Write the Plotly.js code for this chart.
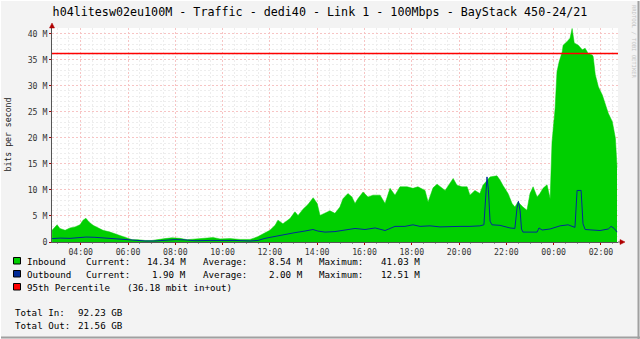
<!DOCTYPE html>
<html><head><meta charset="utf-8">
<script src="https://cdn.plot.ly/plotly-3.0.1.min.js"></script>
<style>html,body{margin:0;padding:0;background:#F3F3F3}#chart{width:640px;height:339px}</style>
</head><body><div id="chart"></div>
<script>
// ---- data (hours since midnight of first day; >24 = next day) ----
const inboundTime = [2.79,3.0,3.12,3.34,3.55,3.76,3.97,4.1,4.22,4.35,4.52,4.73,4.94,5.24,5.45,5.66,5.87,6.17,6.42,6.72,7.01,7.27,7.56,7.86,8.11,8.2,8.5,8.92,9.34,9.6,9.89,10.31,10.74,11.16,11.46,11.71,12.0,12.22,12.34,12.55,12.85,13.06,13.19,13.4,13.61,13.83,14.0,14.12,14.33,14.54,14.75,14.96,15.09,15.3,15.47,15.6,15.72,15.94,16.15,16.36,16.66,16.87,17.08,17.29,17.5,17.8,18.05,18.26,18.56,18.69,18.9,19.07,19.41,19.62,19.75,19.91,20.12,20.34,20.46,20.67,20.88,21.01,21.18,21.31,21.6,21.73,21.85,22.07,22.24,22.36,22.49,22.7,22.87,23.0,23.13,23.3,23.42,23.55,23.72,23.85,23.93,24.06,24.14,24.23,24.36,24.4,24.57,24.69,24.78,24.87,25.04,25.21,25.33,25.46,25.63,25.67,25.76,25.89,26.06,26.18,26.31,26.48,26.61,26.68];
const inboundMbps = [2.25,3.3,2.6,2.25,2.7,2.9,3.3,4.2,4.55,3.85,3.2,2.7,2.25,1.9,1.6,1.15,0.85,0.45,0.45,0.3,0.3,0.5,0.65,0.8,0.8,0.7,0.45,0.6,0.65,0.85,0.6,0.65,0.5,0.5,0.95,1.6,2.25,3.2,4.2,3.5,4.5,5.8,5.1,6.3,7.2,8.5,7.4,5.1,5.6,6.0,5.5,6.7,8.3,9.3,8.65,7.4,8.3,9.6,8.65,9.0,9.0,7.4,10.3,9.0,10.6,10.6,10.3,10.6,9.9,7.7,10.4,11.1,9.9,11.2,12.2,10.9,10.6,10.6,9.0,9.9,9.3,10.9,11.9,12.5,12.7,11.9,10.9,9.3,7.4,6.7,7.7,6.7,6.1,9.3,10.6,8.65,9.3,10.3,11.0,8.3,19.2,25.6,32.7,34.6,36.5,37.8,38.5,39.1,41.0,38.2,37.8,36.9,37.2,36.2,35.9,35.6,32.1,29.8,28.2,26.3,24.7,23.1,19.9,14.3];
const outboundTime = [2.79,3.13,3.55,3.97,4.22,4.6,5.03,5.45,5.87,6.3,6.72,7.14,7.56,7.99,8.41,8.83,9.47,9.89,10.52,11.16,11.5,11.79,12.22,12.64,13.06,13.48,13.82,14.03,14.33,14.75,15.18,15.6,16.02,16.45,16.87,17.29,17.71,18.05,18.35,18.77,19.19,19.62,20.04,20.46,20.88,21.05,21.12,21.18,21.24,21.31,21.39,21.73,22.15,22.36,22.45,22.51,22.58,22.64,22.7,23.3,23.38,23.51,23.85,24.27,24.61,24.82,24.9,24.99,25.16,25.24,25.33,25.96,26.31,26.43,26.56,26.68];
const outboundMbps = [0.65,0.75,0.7,0.85,0.95,0.9,0.75,0.6,0.45,0.3,0.2,0.2,0.3,0.45,0.4,0.25,0.3,0.35,0.3,0.2,0.3,0.7,1.1,1.5,1.8,2.1,2.4,2.1,1.9,2.0,2.3,2.6,2.4,2.7,2.2,3.0,3.0,3.3,3.0,3.1,2.9,3.0,3.0,3.0,3.1,3.3,8.0,12.5,10.0,4.0,3.3,3.2,2.7,2.6,6.5,7.8,6.0,2.5,1.9,1.9,2.7,2.3,2.5,3.1,3.3,3.0,2.8,9.9,9.9,3.5,2.4,2.2,2.5,3.0,2.6,1.9];
const percentile95 = 36.18;
const xTickVals = [4,6,8,10,12,14,16,18,20,22,24,26];
const xTickText = ['04:00','06:00','08:00','10:00','12:00','14:00','16:00','18:00','20:00','22:00','00:00','02:00'];
const yTickVals = [0,5,10,15,20,25,30,35,40];
const yTickText = ['0','5 M','10 M','15 M','20 M','25 M','30 M','35 M','40 M'];
const seriesNames = ['Inbound','Outbound'];
const currentVals = ['14.34 M','1.90 M'];
const averageVals = ['8.54 M','2.00 M'];
const maximumVals = ['41.03 M','12.51 M'];
const percentileLabel = ['95th Percentile','(36.18 mbit in+out)'];
const totalLabels = ['Total In:','Total Out:'];
const totalVals = ['92.23 GB','21.56 GB'];
const titleText = 'h04litesw02eu100M - Traffic - dedi40 - Link 1 - 100Mbps - BayStack 450-24/21';

// ---- styling / layout ----
const C_IN = '#00CF00', C_OUT = '#002A97', C_P95 = '#FF0000';
const MONO = 'DejaVu Sans Mono, monospace';
const L = 52, R = 618, T = 28, B = 242, W = 640, H = 339;
const X_RANGE = [2.786, 26.72];
const PX = x => (x - L) / (R - L);
const PY = y => (B - y) / (B - T);

const traces = [
  {x: inboundTime, y: inboundMbps, type: 'scatter', mode: 'lines', fill: 'tozeroy',
   fillcolor: C_IN, line: {color: C_IN, width: 0.5}, hoverinfo: 'skip'},
  {x: outboundTime, y: outboundMbps, type: 'scatter', mode: 'lines',
   line: {color: C_OUT, width: 1}, hoverinfo: 'skip'},
  {x: X_RANGE, y: [percentile95, percentile95], type: 'scatter', mode: 'lines',
   line: {color: C_P95, width: 1.6}, hoverinfo: 'skip'}
];

const ann = [];
function txt(s, x, y, opt) {
  opt = opt || {};
  ann.push(Object.assign({text: s, xref: 'paper', yref: 'paper', x: PX(x), y: PY(y),
    xanchor: 'left', yanchor: 'middle', showarrow: false, borderpad: 0,
    font: {family: MONO, size: 9.2, color: '#000'}}, opt));
}
const rowY = [261, 274];
const colors = [C_IN, C_OUT];
const shapes = [];
function rect(x0, y0, x1, y1, fill, line) {
  shapes.push({type: 'rect', xref: 'paper', yref: 'paper', x0: PX(x0), x1: PX(x1), y0: PY(y0), y1: PY(y1),
    fillcolor: fill, line: {color: line || fill, width: 1}});
}
seriesNames.forEach((n, i) => {
  const y = rowY[i];
  rect(13.5, y - 3.5, 20.5, y + 3, colors[i], '#000');
  txt(n, 25.5, y);
  txt('Current:', 85, y);
  txt(currentVals[i], 187, y, {xanchor: 'right'});
  txt('Average:', 201.5, y);
  txt(averageVals[i], 303.5, y, {xanchor: 'right'});
  txt('Maximum:', 317.5, y);
  txt(maximumVals[i], 420.5, y, {xanchor: 'right'});
});
rect(13.5, 287 - 3.5, 20.5, 287 + 3, C_P95, '#000');
txt(percentileLabel[0], 25.5, 287);
txt(percentileLabel[1], 126, 287);
txt(totalLabels[0], 14, 312.5); txt(totalVals[0], 76.5, 312.5);
txt(totalLabels[1], 14, 325.5); txt(totalVals[1], 76.5, 325.5);
// y-axis title
ann.push({text: 'bits per second', xref: 'paper', yref: 'paper', x: PX(7.5), y: PY(135),
  textangle: -90, showarrow: false, xanchor: 'center', yanchor: 'middle',
  font: {family: MONO, size: 8.2, color: '#222'}});
// rrdtool credit
ann.push({text: 'RRDTOOL / TOBI OETIKER', xref: 'paper', yref: 'paper', x: PX(634), y: PY(42),
  textangle: 90, showarrow: false, xanchor: 'center', yanchor: 'middle',
  font: {family: MONO, size: 5.5, color: '#C4C4C4'}});

// axis arrows
shapes.push({type: 'path', xref: 'paper', yref: 'paper',
  path: `M ${PX(52)} ${PY(23)} L ${PX(49.5)} ${PY(28)} L ${PX(54.5)} ${PY(28)} Z`,
  fillcolor: '#B00000', line: {color: '#B00000', width: 0.5}});
shapes.push({type: 'line', xref: 'paper', yref: 'paper', x0: 1, x1: PX(621), y0: 0, y1: 0,
  line: {color: '#555', width: 1}});
shapes.push({type: 'path', xref: 'paper', yref: 'paper',
  path: `M ${PX(625)} ${PY(242)} L ${PX(620)} ${PY(239.5)} L ${PX(620)} ${PY(244.5)} Z`,
  fillcolor: '#B00000', line: {color: '#B00000', width: 0.5}});
// canvas frame
shapes.push({type: 'line', xref: 'paper', yref: 'paper', x0: PX(0), x1: PX(640), y0: PY(337.5), y1: PY(337.5), line: {color: '#A0A0A0', width: 2}});
shapes.push({type: 'line', xref: 'paper', yref: 'paper', x0: PX(638.5), x1: PX(638.5), y0: PY(0), y1: PY(339), line: {color: '#A0A0A0', width: 2}});
shapes.push({type: 'line', xref: 'paper', yref: 'paper', x0: PX(0), x1: PX(640), y0: PY(0.5), y1: PY(0.5), line: {color: '#FFFFFF', width: 1}});
shapes.push({type: 'line', xref: 'paper', yref: 'paper', x0: PX(0.5), x1: PX(0.5), y0: PY(0), y1: PY(339), line: {color: '#FFFFFF', width: 1}});

const layout = {
  width: W, height: H,
  margin: {l: L, r: W - R, t: T, b: H - B, pad: 0},
  paper_bgcolor: '#F3F3F3', plot_bgcolor: '#FFFFFF',
  showlegend: false,
  title: {text: titleText, x: 0.5, xref: 'container', xanchor: 'center',
    y: 1 - 12 / H, yref: 'container', yanchor: 'middle',
    font: {family: MONO, size: 11.7, color: '#000'}},
  xaxis: {range: X_RANGE, tickmode: 'array', tickvals: xTickVals, ticktext: xTickText,
    showgrid: true, gridcolor: '#F7C4C4', griddash: '2px,2px', gridwidth: 1,
    showline: true, linecolor: '#555', linewidth: 1, zeroline: false,
    ticks: 'outside', ticklen: 2, tickcolor: '#B00000',
    tickfont: {family: MONO, size: 8.2, color: '#333'}, automargin: false, fixedrange: true,
    minor: {tickmode: 'linear', tick0: 4, dtick: 0.5, showgrid: true, gridcolor: '#EDEDED',
      griddash: '2px,2px', gridwidth: 1, ticks: 'outside', ticklen: 1, tickcolor: '#999'}},
  yaxis: {range: [0, 41.09], tickmode: 'array', tickvals: yTickVals, ticktext: yTickText,
    showgrid: true, gridcolor: '#F7C4C4', griddash: '2px,2px', gridwidth: 1,
    showline: true, linecolor: '#555', linewidth: 1, zeroline: false,
    ticks: 'outside', ticklen: 2, tickcolor: '#B00000',
    tickfont: {family: MONO, size: 8.2, color: '#333'}, automargin: false, fixedrange: true,
    minor: {tickmode: 'linear', tick0: 0, dtick: 1, showgrid: true, gridcolor: '#EDEDED',
      griddash: '2px,2px', gridwidth: 1}},
  annotations: ann, shapes: shapes
};
Plotly.newPlot('chart', traces, layout, {staticPlot: true, displayModeBar: false});
</script></body></html>
